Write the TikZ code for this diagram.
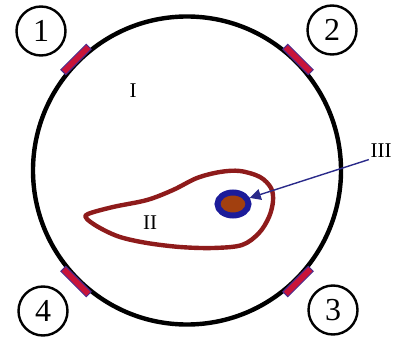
\documentclass[tikz,border=0pt]{standalone}
\usepackage{fontspec}
\setmainfont{Liberation Serif}
\usetikzlibrary{shapes.geometric,arrows.meta,calc}
\definecolor{blobred}{HTML}{8E1B1B}
\definecolor{ringblue}{HTML}{1C1C9A}
\definecolor{corebrown}{HTML}{A2400F}
\definecolor{barred}{HTML}{C8143A}
\definecolor{barblue}{HTML}{4A2A8E}
\definecolor{arrowblue}{HTML}{2A2A8A}
\tikzset{
  numcirc/.style={draw=black, line width=2.4pt, circle, minimum size=49pt, inner sep=0pt, font=\fontsize{32}{32}\selectfont},
  region/.style={font=\fontsize{21}{21}\selectfont, inner sep=1.5pt},
  barbox/.style={draw=barblue, line width=1pt, fill=barred, minimum width=36pt, minimum height=7pt, inner sep=0pt},
}
\begin{document}
\begin{tikzpicture}[x=1pt,y=-1pt]
\useasboundingbox (0,0) rectangle (401,339);
% main circle
\node[draw=black, line width=4.4pt, circle, minimum size=308pt, inner sep=0pt] (main) at (187,170.5) {};
% bars
\foreach \a/\n in {135/b1,45/b2,-45/b3,-135/b4}{
  \node[barbox, rotate=\a] (\n) at ($(187,170.5)+(\a:157)$) {};
}
% numbers
\node[numcirc] (n1) at (41,31) {1};
\node[numcirc] (n2) at (332,30) {2};
\node[numcirc] (n3) at (333,310) {3};
\node[numcirc] (n4) at (43,311) {4};
% region I
\node[region] (lI) at (133,91) {I};
% blob
\draw[blobred, line width=4.4pt, line join=round] plot[smooth cycle, tension=0.55] coordinates {
 (88,214) (113,207) (147,200) (173,190) (197,178) (220,172) (240,171) (260,177)
 (271,188) (273,201) (269,217) (259,233) (242,245) (213,248) (180,247) (147,243)
 (120,237) (100,228) (87,219)};
\node[region] (lII) at (150,223) {II};
% ring
\node[ellipse, draw=ringblue, line width=6pt, fill=corebrown, minimum width=31pt, minimum height=23pt, inner sep=0pt] (ring) at (233,204) {};
% III
\node[region] (lIII) at (381,151) {III};
\draw[arrowblue, line width=1.4pt, -{Triangle[length=11pt,width=11pt]}] (lIII.south west) -- (ring.20);
\end{tikzpicture}
\end{document}
